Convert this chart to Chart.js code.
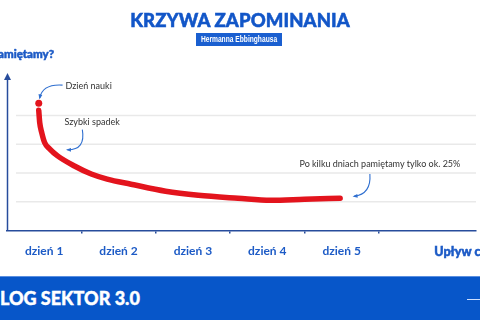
<!DOCTYPE html>
<html>
<head>
<meta charset="utf-8">
<script src="https://cdn.jsdelivr.net/npm/chart.js@4"></script>
<style>
  html, body { margin: 0; padding: 0; background: #fff; }
  #wrap { position: relative; width: 480px; height: 320px; overflow: hidden; font-family: Lato, sans-serif; }
  #chart { position: absolute; left: 0; top: 0; }
  #title { position: absolute; left: 0; width: 480px; top: 9px; text-align: center; color: #1256c8;
           font: 900 18.5px Lato, sans-serif; letter-spacing: 0.1px; -webkit-text-stroke: 0.5px #1256c8; }
  #sub { position: absolute; left: 196px; top: 33px; width: 86px; height: 13px; background: #1a5fd0; overflow: hidden; }
  #sub span { position: absolute; left: 50%; top: 0; white-space: nowrap; color: #fff;
              font: bold 9px "Liberation Sans", sans-serif; line-height: 13px;
              transform: translateX(-50%) scaleX(0.74); }
  #footer { position: absolute; left: 0; top: 276px; width: 480px; height: 44px; background: #0756c9;
            border-top: 1px solid #5b8fe0; box-sizing: border-box; }
  #footer span { position: absolute; left: -12px; top: 10px; color: #fff; font: 900 18px Lato, sans-serif;
                 -webkit-text-stroke: 0.4px #fff; white-space: nowrap; }
  #footer i { position: absolute; right: 0; top: 22px; width: 13px; height: 1px; background: #cfe0ff; }
</style>
</head>
<body>
<div id="wrap">
  <canvas id="chart" width="480" height="320"></canvas>
  <div id="title">KRZYWA ZAPOMINANIA</div>
  <div id="sub"><span>Hermanna Ebbinghausa</span></div>
  <div id="footer"><span>BLOG SEKTOR 3.0</span><i></i></div>
</div>
<script>
// dni na osi X (etykiety w środku przedziałów)
const dayLabels = ['dzień 1', 'dzień 2', 'dzień 3', 'dzień 4', 'dzień 5'];
const gridValues = [25, 50, 75, 100];

// krzywa zapominania (x w dniach, y w %)
const curveX = [0.427, 0.44, 0.467, 0.507, 0.573, 0.68, 0.907, 1.133, 1.347, 1.667, 2.133, 2.573, 3.107, 3.547, 4.0, 4.48];
const curveY = [104.4, 93.8, 85.1, 76.3, 71.0, 64.9, 56.1, 49.1, 44.7, 40.3, 34.2, 30.7, 28.1, 26.3, 27.2, 28.1];
const startX = [0.427];
const startY = [110.5];

const blue = '#1d5bc6';
const axisBlue = '#274c9c';

const notes = [
  { text: 'Dzień nauki', x: 0.787, y: 125.4, arrow: [[0.747, 126.3], [0.48, 127.5], [0.44, 115.2]] },
  { text: 'Szybki spadek', x: 0.773, y: 93.8, arrow: [[1.013, 87.7], [1.06, 70.0], [0.813, 70.2]] },
  { text: 'Po kilku dniach pamiętamy tylko ok. 25%', x: 3.933, y: 57.9, arrow: [[4.88, 49.1], [4.9, 31.5], [4.667, 29.8]] }
];

// znaczniki co 0.5: połówki niosą etykiety, pełne dni mają kreskę
const xTicks = [];
for (let i = 0; i < 5; i++) { xTicks.push(i + 0.5); xTicks.push(i + 1); }

const decor = {
  id: 'decor',
  beforeDatasetsDraw(chart) {
    const { ctx, chartArea, scales: { y } } = chart;
    ctx.save();
    ctx.strokeStyle = '#e9e9e9';
    ctx.lineWidth = 1.5;
    gridValues.forEach(v => {
      const py = y.getPixelForValue(v);
      ctx.beginPath();
      ctx.moveTo(chartArea.left + 9, py);
      ctx.lineTo(chartArea.right, py);
      ctx.stroke();
    });
    // oś Y ze strzałką
    ctx.strokeStyle = axisBlue;
    ctx.fillStyle = axisBlue;
    ctx.lineWidth = 1.5;
    const ax = chartArea.left + 0.5;
    ctx.beginPath();
    ctx.moveTo(ax, chartArea.bottom);
    ctx.lineTo(ax, chartArea.top - 2);
    ctx.stroke();
    ctx.beginPath();
    ctx.moveTo(ax, chartArea.top - 5);
    ctx.lineTo(ax - 3.5, chartArea.top + 2);
    ctx.lineTo(ax + 3.5, chartArea.top + 2);
    ctx.closePath();
    ctx.fill();
    ctx.restore();
  },
  afterDraw(chart) {
    const { ctx, chartArea, scales: { x, y } } = chart;
    ctx.save();
    ctx.fillStyle = blue;
    ctx.strokeStyle = blue;
    ctx.lineWidth = 0.5;
    ctx.font = '900 11.5px Lato, sans-serif';
    ctx.textBaseline = 'middle';
    ctx.textAlign = 'right';
    ctx.fillText('Ile pamiętamy?', chartArea.left + 47, chartArea.top - 24);
    ctx.strokeText('Ile pamiętamy?', chartArea.left + 47, chartArea.top - 24);
    ctx.textAlign = 'left';
    ctx.font = '900 12.5px Lato, sans-serif';
    ctx.fillText('Upływ czasu', x.getPixelForValue(5.747), chartArea.bottom + 21);
    ctx.strokeText('Upływ czasu', x.getPixelForValue(5.747), chartArea.bottom + 21);

    ctx.font = '9px Lato, sans-serif';
    notes.forEach(n => {
      ctx.fillStyle = '#333';
      ctx.fillText(n.text, x.getPixelForValue(n.x), y.getPixelForValue(n.y));
      const p = n.arrow.map(a => [x.getPixelForValue(a[0]), y.getPixelForValue(a[1])]);
      ctx.strokeStyle = '#2f6fd0';
      ctx.fillStyle = '#2f6fd0';
      ctx.lineWidth = 1.1;
      ctx.beginPath();
      ctx.moveTo(p[0][0], p[0][1]);
      ctx.quadraticCurveTo(p[1][0], p[1][1], p[2][0], p[2][1]);
      ctx.stroke();
      const ang = Math.atan2(p[2][1] - p[1][1], p[2][0] - p[1][0]);
      const s = 4;
      ctx.beginPath();
      ctx.moveTo(p[2][0] + Math.cos(ang) * 1.5, p[2][1] + Math.sin(ang) * 1.5);
      ctx.lineTo(p[2][0] - Math.cos(ang - 0.5) * s, p[2][1] - Math.sin(ang - 0.5) * s);
      ctx.lineTo(p[2][0] - Math.cos(ang + 0.5) * s, p[2][1] - Math.sin(ang + 0.5) * s);
      ctx.closePath();
      ctx.fill();
    });
    ctx.restore();
  }
};

new Chart(document.getElementById('chart'), {
  type: 'line',
  data: {
    datasets: [
      {
        data: curveX.map((v, i) => ({ x: v, y: curveY[i] })),
        borderColor: '#e3141d',
        borderWidth: 5.5,
        borderCapStyle: 'round',
        borderJoinStyle: 'round',
        cubicInterpolationMode: 'monotone',
        pointRadius: 0
      },
      {
        data: startX.map((v, i) => ({ x: v, y: startY[i] })),
        showLine: false,
        pointRadius: 3.5,
        pointBackgroundColor: '#e3141d',
        pointBorderWidth: 0
      }
    ]
  },
  options: {
    responsive: false,
    animation: false,
    layout: { padding: { left: 7, top: 78, right: 0, bottom: 52 } },
    plugins: { legend: { display: false }, tooltip: { enabled: false } },
    scales: {
      x: {
        type: 'linear',
        min: 0,
        max: 6.307,
        afterBuildTicks: scale => { scale.ticks = xTicks.map(v => ({ value: v })); },
        border: { color: axisBlue, width: 1.5 },
        grid: {
          drawOnChartArea: false,
          tickLength: 3,
          lineWidth: 1.5,
          color: c => (c.tick && c.tick.value % 1 === 0) ? axisBlue : 'rgba(0,0,0,0)'
        },
        ticks: {
          autoSkip: false,
          maxRotation: 0,
          padding: 10,
          color: blue,
          font: { family: 'Lato', weight: 'bold', size: 12 },
          callback: v => (v % 1 !== 0 && dayLabels[Math.floor(v)]) ? dayLabels[Math.floor(v)] : ''
        }
      },
      y: { display: false, min: 0, max: 132.5 }
    }
  },
  plugins: [decor]
});
</script>
</body>
</html>
